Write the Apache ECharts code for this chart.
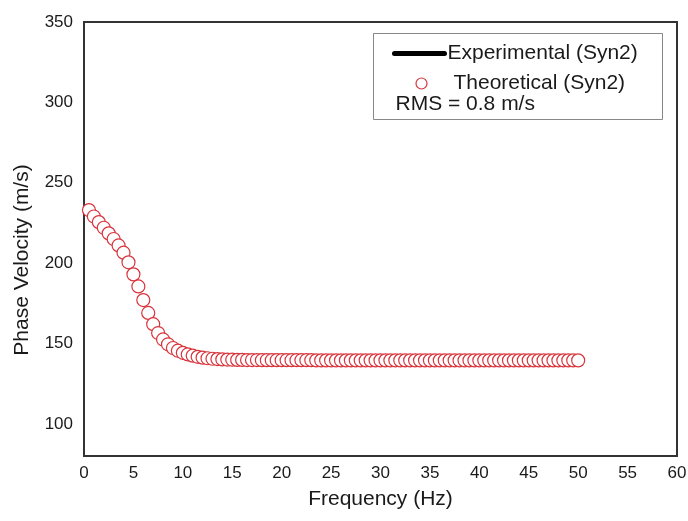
<!DOCTYPE html>
<html>
<head>
<meta charset="utf-8">
<script src="https://cdn.jsdelivr.net/npm/echarts@6/dist/echarts.min.js"></script>
<style>
  html, body { margin: 0; padding: 0; background: #fff; }
  #chart { width: 688px; height: 521px; }
</style>
</head>
<body>
<div id="chart"></div>
<script>
// frequency (Hz) of each theoretical point
const freq = [
  0.5, 1, 1.5, 2, 2.5, 3, 3.5, 4, 4.5, 5,
  5.5, 6, 6.5, 7, 7.5, 8, 8.5, 9, 9.5, 10,
  10.5, 11, 11.5, 12, 12.5, 13, 13.5, 14, 14.5, 15,
  15.5, 16, 16.5, 17, 17.5, 18, 18.5, 19, 19.5, 20,
  20.5, 21, 21.5, 22, 22.5, 23, 23.5, 24, 24.5, 25,
  25.5, 26, 26.5, 27, 27.5, 28, 28.5, 29, 29.5, 30,
  30.5, 31, 31.5, 32, 32.5, 33, 33.5, 34, 34.5, 35,
  35.5, 36, 36.5, 37, 37.5, 38, 38.5, 39, 39.5, 40,
  40.5, 41, 41.5, 42, 42.5, 43, 43.5, 44, 44.5, 45,
  45.5, 46, 46.5, 47, 47.5, 48, 48.5, 49, 49.5, 50
];
// theoretical phase velocity (m/s)
const velocity = [
  233, 229, 225.5, 222, 218.5, 215, 211, 206.5, 200.5, 193,
  185.5, 177, 169, 162, 156.5, 152.5, 149.5, 147.2, 145.5, 144.2,
  143.2, 142.4, 141.7, 141.2, 140.8, 140.5, 140.3, 140.1, 140, 139.9,
  139.8, 139.8, 139.7, 139.7, 139.7, 139.6, 139.6, 139.6, 139.6, 139.6,
  139.6, 139.6, 139.6, 139.6, 139.6, 139.6, 139.5, 139.5, 139.5, 139.5,
  139.5, 139.5, 139.5, 139.5, 139.5, 139.5, 139.5, 139.5, 139.5, 139.5,
  139.5, 139.5, 139.5, 139.5, 139.5, 139.5, 139.5, 139.5, 139.5, 139.5,
  139.5, 139.5, 139.5, 139.5, 139.5, 139.5, 139.5, 139.5, 139.5, 139.5,
  139.5, 139.5, 139.5, 139.5, 139.5, 139.5, 139.5, 139.5, 139.5, 139.5,
  139.5, 139.5, 139.5, 139.5, 139.5, 139.5, 139.5, 139.5, 139.5, 139.5
];
const yTicks = [100, 150, 200, 250, 300, 350];
const legendNames = ['Experimental (Syn2)', 'Theoretical (Syn2)'];
const rmsText = 'RMS = 0.8 m/s';

const FONT = 'Liberation Sans, Arial, sans-serif';
const RED = '#d8343c';
const INK = '#1a1a1a';

const chart = echarts.init(document.getElementById('chart'));

const option = {
  animation: false,
  backgroundColor: '#fff',
  textStyle: { fontFamily: FONT },
  grid: {
    left: 84, right: 11, top: 22, bottom: 65,
    outerBoundsMode: 'none',
    containLabel: false,
    show: true, borderColor: '#333', borderWidth: 2, backgroundColor: 'transparent'
  },
  xAxis: {
    type: 'value',
    min: 0, max: 60, interval: 5,
    name: 'Frequency (Hz)',
    nameLocation: 'middle',
    nameGap: 33,
    nameTextStyle: { fontSize: 21, color: INK, fontFamily: FONT },
    axisLine: { show: true, lineStyle: { color: '#333', width: 2 } },
    axisTick: { show: false },
    splitLine: { show: false },
    axisLabel: { fontSize: 17, color: INK, margin: 9, fontFamily: FONT }
  },
  yAxis: {
    type: 'value',
    min: 80, max: 350,
    name: 'Phase Velocity (m/s)',
    nameLocation: 'middle',
    nameGap: 51,
    nameTextStyle: { fontSize: 21, color: INK, fontFamily: FONT, padding: [0, 42, 0, 0] },
    axisLine: { show: true, lineStyle: { color: '#333', width: 2 } },
    axisTick: { show: false },
    splitLine: { show: false },
    axisLabel: { fontSize: 17, color: INK, margin: 11, fontFamily: FONT, customValues: yTicks }
  },
  series: [
    {
      name: legendNames[0],
      type: 'line',
      data: [],
      lineStyle: { color: '#000', width: 4 },
      showSymbol: false
    },
    {
      name: legendNames[1],
      type: 'scatter',
      data: freq.map((f, i) => [f, velocity[i]]),
      symbol: 'circle',
      symbolSize: 13,
      itemStyle: { color: '#fff', borderColor: RED, borderWidth: 1.2, opacity: 1 },
      emphasis: { disabled: true }
    }
  ],
  graphic: [
    {
      type: 'group',
      left: 373, top: 33,
      children: [
        { type: 'rect', shape: { x: 0, y: 0, width: 289, height: 86 },
          style: { fill: '#fff', stroke: '#888', lineWidth: 1 } },
        { type: 'line', shape: { x1: 21, y1: 20, x2: 71, y2: 20 },
          style: { stroke: '#000', lineWidth: 5, lineCap: 'round' } },
        { type: 'text', x: 74, y: 20,
          style: { text: legendNames[0], font: '21px ' + FONT, fill: INK, verticalAlign: 'middle' } },
        { type: 'circle', shape: { cx: 48, cy: 50, r: 5.5 },
          style: { fill: '#fff', stroke: RED, lineWidth: 1.2 } },
        { type: 'text', x: 80, y: 50,
          style: { text: legendNames[1], font: '21px ' + FONT, fill: INK, verticalAlign: 'middle' } },
        { type: 'text', x: 22, y: 71,
          style: { text: rmsText, font: '21px ' + FONT, fill: INK, verticalAlign: 'middle' } }
      ]
    }
  ]
};

chart.setOption(option);
</script>
</body>
</html>
